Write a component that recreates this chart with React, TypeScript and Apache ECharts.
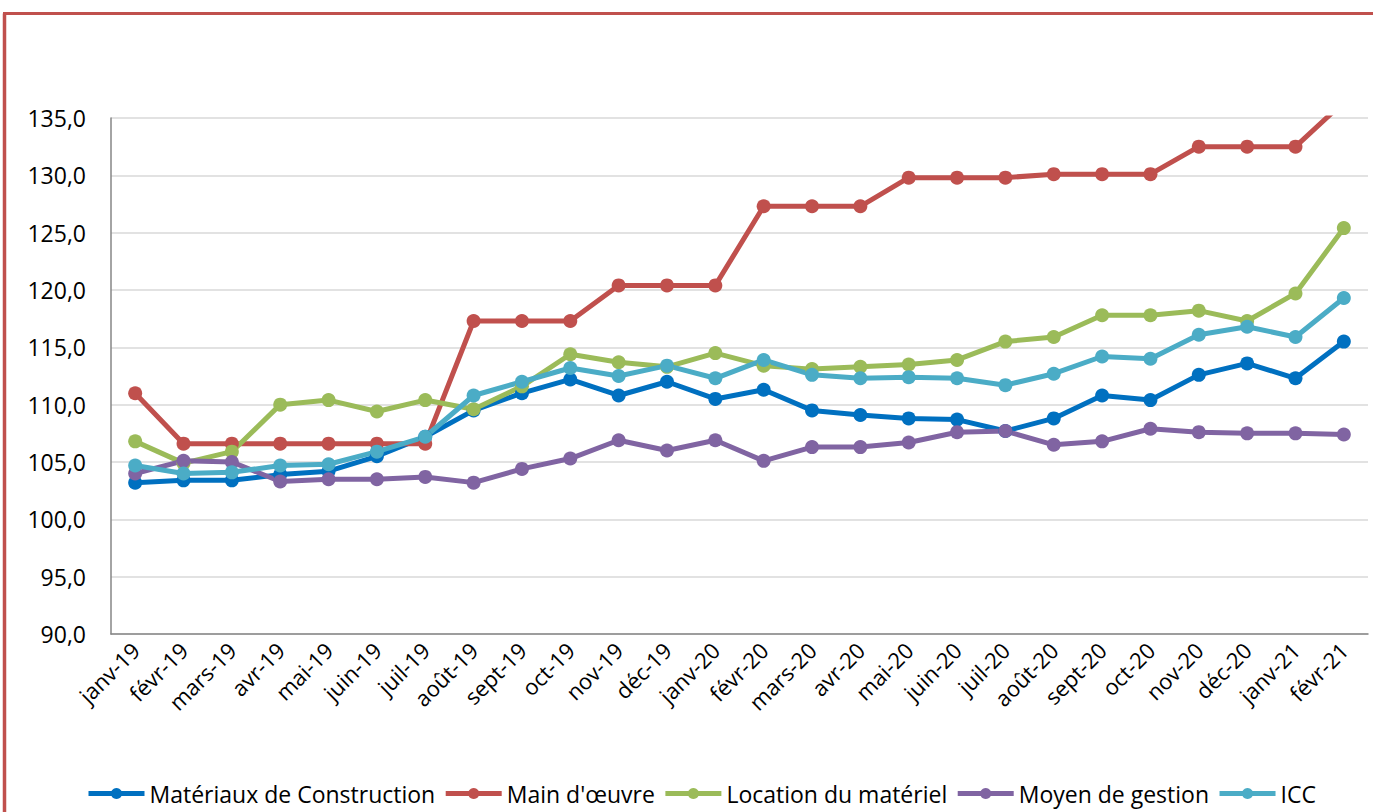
import React, { useEffect, useRef } from "react";
import * as echarts from "echarts";

const categories = [
  "janv-19", "févr-19", "mars-19", "avr-19", "mai-19", "juin-19", "juil-19", "août-19",
  "sept-19", "oct-19", "nov-19", "déc-19", "janv-20", "févr-20", "mars-20", "avr-20",
  "mai-20", "juin-20", "juil-20", "août-20", "sept-20", "oct-20", "nov-20", "déc-20",
  "janv-21", "févr-21",
];

const materiaux = [103.2, 103.4, 103.4, 103.9, 104.2, 105.5, 107.2, 109.5, 111.0, 112.2, 110.8, 112.0, 110.5, 111.3, 109.5, 109.1, 108.8, 108.7, 107.7, 108.8, 110.8, 110.4, 112.6, 113.6, 112.3, 115.5];
const mainOeuvre = [111.0, 106.6, 106.6, 106.6, 106.6, 106.6, 106.6, 117.3, 117.3, 117.3, 120.4, 120.4, 120.4, 127.3, 127.3, 127.3, 129.8, 129.8, 129.8, 130.1, 130.1, 130.1, 132.5, 132.5, 132.5, 136.4];
const location = [106.8, 104.9, 105.9, 110.0, 110.4, 109.4, 110.4, 109.6, 111.6, 114.4, 113.7, 113.3, 114.5, 113.4, 113.1, 113.3, 113.5, 113.9, 115.5, 115.9, 117.8, 117.8, 118.2, 117.3, 119.7, 125.4];
const moyen = [104.0, 105.1, 105.0, 103.3, 103.5, 103.5, 103.7, 103.2, 104.4, 105.3, 106.9, 106.0, 106.9, 105.1, 106.3, 106.3, 106.7, 107.6, 107.7, 106.5, 106.8, 107.9, 107.6, 107.5, 107.5, 107.4];
const icc = [104.7, 104.0, 104.1, 104.7, 104.8, 105.9, 107.2, 110.8, 112.0, 113.2, 112.5, 113.4, 112.3, 113.9, 112.6, 112.3, 112.4, 112.3, 111.7, 112.7, 114.2, 114.0, 116.1, 116.8, 115.9, 119.3];

const seriesNames = [
  "Matériaux de Construction",
  "Main d'œuvre",
  "Location du matériel",
  "Moyen de gestion",
  "ICC",
];
const seriesData = [materiaux, mainOeuvre, location, moyen, icc];
const seriesColors = ["#0070C0", "#C0504D", "#9BBB59", "#8064A2", "#4BACC6"];

const yMin = 90;
const yMax = 135;
const yStep = 5;

const FONT = "'Open Sans', sans-serif";

export default function App() {
  const ref = useRef<HTMLDivElement>(null);

  useEffect(() => {
    document.body.style.margin = "0";
    if (!ref.current) return;
    const chart = echarts.init(ref.current, null, { renderer: "svg" });
    chart.setOption({
      animation: false,
      backgroundColor: "#ffffff",
      textStyle: { fontFamily: FONT },
      grid: { left: 111, right: 5, top: 118, bottom: 178, containLabel: false },
      legend: {
        left: 86,
        top: 782,
        padding: 0,
        itemWidth: 56,
        itemHeight: 14,
        itemGap: 8,
        lineStyle: { width: 5 },
        textStyle: { fontFamily: FONT, fontSize: 23, color: "#000", lineHeight: 23 },
        data: seriesNames,
      },
      graphic: [
        {
          type: "line",
          shape: { x1: 4.5, y1: 13.5, x2: 4.5, y2: 900 },
          style: { stroke: "#C0504D", lineWidth: 3.5 },
          silent: true,
        },
        {
          type: "line",
          shape: { x1: 3, y1: 13.5, x2: 1400, y2: 13.5 },
          style: { stroke: "#C0504D", lineWidth: 3 },
          silent: true,
        },
      ],
      xAxis: {
        type: "category",
        data: categories,
        boundaryGap: true,
        axisLine: { show: true, lineStyle: { color: "#868686", width: 1.5 } },
        axisTick: { show: false },
        axisLabel: {
          rotate: 45,
          interval: 0,
          margin: 12,
          fontFamily: FONT,
          fontSize: 22,
          color: "#000",
        },
        splitLine: { show: false },
      },
      yAxis: {
        type: "value",
        min: yMin,
        max: yMax,
        interval: yStep,
        axisLine: { show: true, lineStyle: { color: "#868686", width: 1.5 } },
        axisTick: { show: false },
        axisLabel: {
          margin: 25,
          fontFamily: FONT,
          fontSize: 23,
          color: "#000",
          formatter: (v: number) => v.toFixed(1).replace(".", ","),
        },
        splitLine: { show: true, lineStyle: { color: "#D9D9D9", width: 1.5 } },
      },
      series: seriesNames.map((name, i) => ({
        name,
        type: "line",
        data: seriesData[i],
        clip: true,
        symbol: "circle",
        symbolSize: 14,
        lineStyle: { color: seriesColors[i], width: 5 },
        itemStyle: { color: seriesColors[i] },
      })),
    });
    return () => chart.dispose();
  }, []);

  return <div ref={ref} style={{ width: 1373, height: 812 }} />;
}
